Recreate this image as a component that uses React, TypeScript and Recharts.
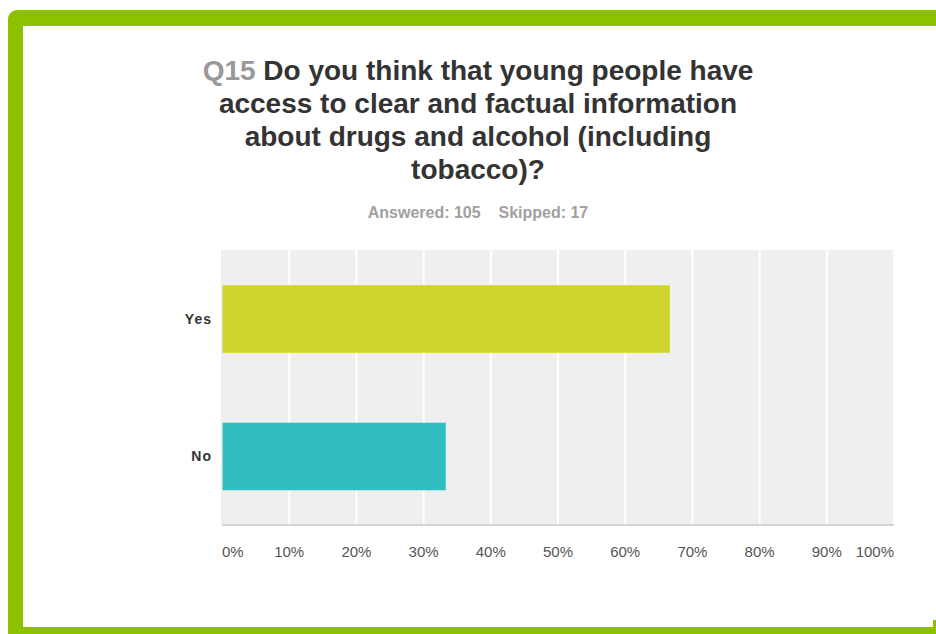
import { Bar, BarChart, CartesianGrid, Cell, XAxis, YAxis } from 'recharts'

const categories = ['Yes', 'No']
const percentages = [66.67, 33.33]
const barColors = ['#cfd52a', '#33bdc0']
const xTicks = [0, 10, 20, 30, 40, 50, 60, 70, 80, 90, 100]
const answered = 105
const skipped = 17

const data = categories.map((label, i) => ({ label, value: percentages[i] }))

const FONT = '"Liberation Sans", Arial, sans-serif'

function PercentTick(props: any) {
  const { x, y, payload } = props
  const v = payload.value
  const anchor = v === 0 ? 'start' : v === 100 ? 'end' : 'middle'
  return (
    <text x={x} y={y} dy={24} textAnchor={anchor} fill="#555" fontSize={15} fontFamily={FONT}>
      {`${v}%`}
    </text>
  )
}

export default function App() {
  return (
    <div style={{ position: 'absolute', left: 0, top: 0, width: 936, height: 634, overflow: 'hidden', background: '#fff' }}>
      {/* green frame */}
      <div
        style={{
          position: 'absolute',
          left: 8,
          top: 10,
          width: 960,
          height: 640,
          boxSizing: 'border-box',
          borderTop: '16px solid #8cc100',
          borderLeft: '15px solid #8cc100',
          borderRight: '30px solid #8cc100',
          borderBottom: '30px solid #8cc100',
          borderTopLeftRadius: 9,
        }}
      />
      <div
        style={{
          position: 'absolute',
          left: 23,
          top: 26,
          width: 910,
          height: 601,
          background: '#fff',
        }}
      />
      <div
        style={{
          position: 'absolute',
          left: 158,
          top: 54,
          width: 640,
          textAlign: 'center',
          fontFamily: FONT,
          fontWeight: 'bold',
          fontSize: 28,
          lineHeight: '33px',
          color: '#333',
        }}
      >
        <span style={{ color: '#999' }}>Q15</span> Do you think that young people have
        <br />
        access to clear and factual information
        <br />
        about drugs and alcohol (including
        <br />
        tobacco)?
      </div>
      <div
        style={{
          position: 'absolute',
          left: 178,
          top: 204,
          width: 600,
          textAlign: 'center',
          fontFamily: FONT,
          fontWeight: 'bold',
          fontSize: 16,
          color: '#a0a0a0',
        }}
      >
        Answered: {answered}&nbsp;&nbsp;&nbsp;&nbsp;Skipped: {skipped}
      </div>
      <div style={{ position: 'absolute', left: 0, top: 0 }}>
        <BarChart
          width={936}
          height={634}
          data={data}
          layout="vertical"
          margin={{ top: 250, right: 42, left: 162, bottom: 79 }}
        >
          <CartesianGrid fill="#efefef" stroke="#ffffff" strokeWidth={2} horizontal={false} />
          <XAxis
            type="number"
            domain={[0, 100]}
            ticks={xTicks}
            interval={0}
            tickLine={false}
            axisLine={{ stroke: '#d3d3d3', strokeWidth: 2 }}
            tick={<PercentTick />}
            height={30}
          />
          <YAxis
            type="category"
            dataKey="label"
            width={60}
            tickLine={false}
            tickMargin={4}
            axisLine={{ stroke: '#dddddd' }}
            tick={{ fill: '#333', fontSize: 14, fontWeight: 'bold', fontFamily: FONT, letterSpacing: 1 }}
          />
          <Bar dataKey="value" barSize={68} isAnimationActive={false}>
            {data.map((d, i) => (
              <Cell key={d.label} fill={barColors[i]} stroke="rgba(255,255,255,0.35)" />
            ))}
          </Bar>
        </BarChart>
      </div>
    </div>
  )
}
